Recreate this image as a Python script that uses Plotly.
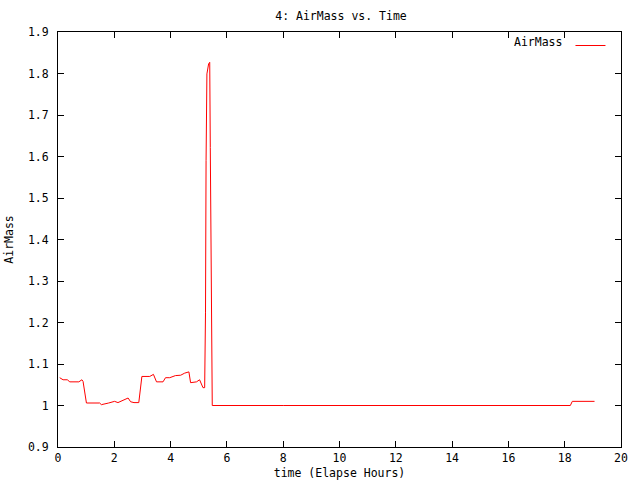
import plotly.graph_objects as go

# Data
time_hours = [0.06, 0.18, 0.33, 0.42, 0.74, 0.85, 0.89, 0.95, 1.01, 1.48, 1.54, 1.80,
              2.01, 2.13, 2.31, 2.49, 2.58, 2.70, 2.87, 2.91, 2.98, 3.26, 3.39, 3.50,
              3.73, 3.82, 3.97, 4.17, 4.36, 4.50, 4.65, 4.71, 4.92, 5.03, 5.09, 5.15,
              5.21, 5.24, 5.26, 5.27, 5.29, 5.35, 5.39, 5.41, 5.45, 5.47, 5.48,
              8.00, 12.00, 16.00, 18.20, 18.27, 19.06]
airmass = [1.067, 1.062, 1.062, 1.057, 1.057, 1.062, 1.058, 1.028, 1.006, 1.006, 1.002, 1.006,
           1.010, 1.007, 1.012, 1.018, 1.009, 1.007, 1.007, 1.036, 1.070, 1.070, 1.075, 1.057,
           1.057, 1.067, 1.067, 1.072, 1.073, 1.078, 1.081, 1.055, 1.057, 1.062, 1.054, 1.043,
           1.043, 1.225, 1.590, 1.783, 1.799, 1.823, 1.827, 1.622, 1.205, 1.000, 1.000,
           1.000, 1.000, 1.000, 1.000, 1.010, 1.010]

x_tickvals = [0, 2, 4, 6, 8, 10, 12, 14, 16, 18, 20]
x_ticktext = ["0", "2", "4", "6", "8", "10", "12", "14", "16", "18", "20"]
y_tickvals = [0.9, 1.0, 1.1, 1.2, 1.3, 1.4, 1.5, 1.6, 1.7, 1.8, 1.9]
y_ticktext = ["0.9", "1", "1.1", "1.2", "1.3", "1.4", "1.5", "1.6", "1.7", "1.8", "1.9"]

FONT = "DejaVu Sans Mono"
FS = 11.5

fig = go.Figure()
fig.add_trace(go.Scatter(x=time_hours, y=airmass, mode="lines", name=" ",
                         line=dict(color="#ff0000", width=1), showlegend=True))

axis_common = dict(showline=True, linecolor="black", linewidth=1, mirror="ticks",
                   ticks="inside", ticklen=6, tickcolor="black", showgrid=False,
                   zeroline=False, automargin=False,
                   tickfont=dict(family=FONT, size=FS, color="black"))

L, R, T, B = 58, 19, 32, 33
plot_w = 640 - L - R
plot_h = 480 - T - B

fig.update_layout(
    width=640, height=480,
    margin=dict(l=L, r=R, t=T, b=B),
    paper_bgcolor="white", plot_bgcolor="white",
    font=dict(family=FONT, size=FS, color="black"),
    title=dict(text="4: AirMass vs. Time", x=341 / 640, xanchor="center",
               y=1 - 16 / 480, yanchor="middle", font=dict(family=FONT, size=FS)),
    xaxis=dict(range=[0, 20], tickvals=x_tickvals, ticktext=x_ticktext,
               ticklabelstandoff=0,
               title=dict(text="time (Elapse Hours)", standoff=5,
                          font=dict(family=FONT, size=FS)), **axis_common),
    yaxis=dict(range=[0.9, 1.9], tickvals=y_tickvals, ticktext=y_ticktext,
               ticklabelstandoff=6,
               title=dict(text="AirMass", standoff=11,
                          font=dict(family=FONT, size=FS)), **axis_common),
    legend=dict(title=dict(text="AirMass", side="left", font=dict(family=FONT, size=FS)),
                x=1 + 2 / plot_w, xanchor="right", y=1 + 1 / plot_h, yanchor="top",
                bgcolor="rgba(0,0,0,0)", borderwidth=0, font=dict(family=FONT, size=FS)),
    showlegend=True,
)

fig.write_html("out.html", config={"displayModeBar": False},
               post_script="document.body.style.margin='0px';")
